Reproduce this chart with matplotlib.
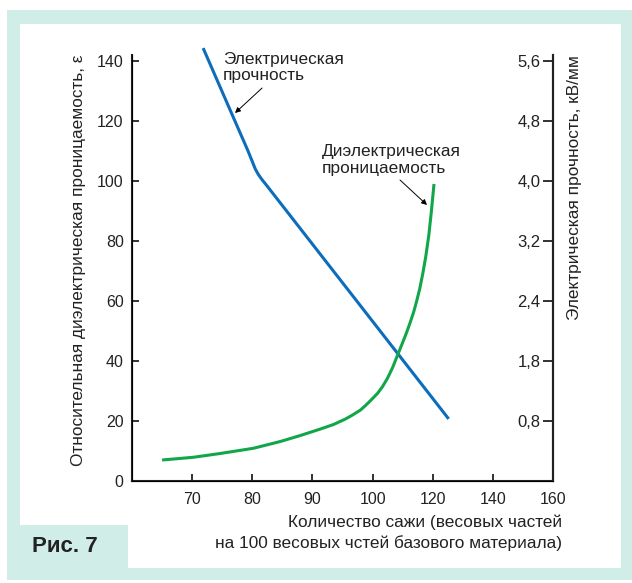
import numpy as np
import matplotlib

matplotlib.use("Agg")
import matplotlib.pyplot as plt
from matplotlib.patches import Rectangle

plt.rcParams["font.family"] = ["Liberation Sans", "DejaVu Sans"]

# количество сажи и диэлектрическая проницаемость
perm_x = [65.0, 70.17, 74.67, 80.17, 84.67, 88.0, 91.33, 93.5, 95.5, 96.67, 98.0, 98.83, 99.67,
          101.67, 103.33, 105.0, 106.67, 108.33, 109.67, 111.0, 112.33, 113.67, 114.67, 115.67,
          116.67, 117.67, 118.67, 119.5, 120.43]
perm_y = [7.0, 7.9, 9.17, 10.9, 13.17, 15.17, 17.33, 18.83, 20.67, 22.0, 23.67, 25.17, 26.83,
          29.23, 31.5, 34.33, 37.83, 42.0, 45.33, 48.67, 52.33, 56.33, 60.0, 64.0,
          69.0, 74.67, 81.67, 89.33, 99.0]

# электрическая прочность (в единицах левой оси)
strength_x = [71.83, 76.83, 79.23, 80.0, 80.5, 81.0, 81.6, 82.4, 125.3]
strength_y = [144.3, 121.3, 110.3, 106.5, 104.0, 102.2, 100.5, 98.5, 20.7]

x_ticks = [70, 80, 90, 100, 120, 140, 160]
left_ticks = [0, 20, 40, 60, 80, 100, 120, 140]
right_ticks = [20, 40, 60, 80, 100, 120, 140]
right_labels = ["0,8", "1,8", "2,4", "3,2", "4,0", "4,8", "5,6"]

TEAL = "#d1ede7"
BLUE = "#0b6dbb"
GREEN = "#12a64a"
INK = "#222222"
W, H = 632, 583


def fwd(x):
    x = np.asarray(x, dtype=float)
    return np.where(x <= 100, (x - 60) / 10, 4 + (x - 100) / 20)


def inv(i):
    i = np.asarray(i, dtype=float)
    return np.where(i <= 4, 60 + 10 * i, 100 + 20 * (i - 4))


def box(x0, y0, x1, y1, color):
    # pixel box (top-left origin) -> figure fraction
    return Rectangle((x0 / W, 1 - y1 / H), (x1 - x0) / W, (y1 - y0) / H,
                     transform=fig.transFigure, facecolor=color, edgecolor="none", zorder=-10)


fig = plt.figure(figsize=(W / 100, H / 100), dpi=100)
fig.patch.set_facecolor("white")
fig.patches.append(box(7, 10, 632, 580, TEAL))
fig.patches.append(box(20, 24, 621, 568, "white"))
fig.patches.append(box(20, 525, 128, 568, TEAL))

ax = fig.add_axes([132 / W, 1 - 481 / H, 421 / W, 426 / H])
ax.set_xscale("function", functions=(fwd, inv))
ax.set_xlim(60, 160)
ax.set_ylim(0, 142)

ax.plot(strength_x, strength_y, color=BLUE, lw=2.2, clip_on=False,
        solid_capstyle="butt", solid_joinstyle="round")
ax.plot(perm_x, perm_y, color=GREEN, lw=2.2, clip_on=False,
        solid_capstyle="butt", solid_joinstyle="round")

ax.set_xticks(x_ticks)
ax.set_xticklabels([str(v) for v in x_ticks])
ax.xaxis.set_minor_locator(matplotlib.ticker.NullLocator())
ax.set_yticks(left_ticks)
ax.tick_params(direction="in", length=5, width=1.3, labelsize=11.5, color=INK, labelcolor=INK)
ax.tick_params(axis="x", pad=8)
ax.tick_params(axis="y", pad=6)
for s in ["left", "bottom", "right"]:
    ax.spines[s].set_linewidth(1.5)
    ax.spines[s].set_color(INK)
ax.spines["top"].set_visible(False)

ax2 = ax.twinx()
ax2.set_ylim(ax.get_ylim())
ax2.set_yticks(right_ticks)
ax2.set_yticklabels(right_labels)
ax2.spines["top"].set_visible(False)
ax2.spines["right"].set_linewidth(1.5)
ax2.spines["right"].set_color(INK)
ax2.tick_params(axis="y", direction="in", length=7, width=1.3, labelsize=12, pad=-9,
                color=INK, labelcolor=INK)
for lbl in ax2.get_yticklabels():
    lbl.set_horizontalalignment("right")

lab = 12.4
ax.set_ylabel("Относительная диэлектрическая проницаемость, ε", fontsize=lab, color=INK)
ax.yaxis.set_label_coords(-0.126, 1.0)
ax.yaxis.label.set_va("center")
ax.yaxis.label.set_ha("right")
ax2.set_ylabel("Электрическая прочность, кВ/мм", fontsize=lab, color=INK, rotation=90)
ax2.yaxis.set_label_coords(1.052, 1.0)
ax2.yaxis.label.set_va("center")
ax2.yaxis.label.set_ha("right")

ax.set_xlabel("Количество сажи (весовых частей\nна 100 весовых чстей базового материала)",
              fontsize=lab, multialignment="right", ha="right", linespacing=1.4, color=INK)
ax.xaxis.set_label_coords((562 - 132) / 421, -0.078)
ax.xaxis.label.set_va("top")

arrow = dict(arrowstyle="-|>", lw=0.7, color="black", mutation_scale=8, shrinkA=0, shrinkB=0)
ax.text(0.216, 1.008, "Электрическая\nпрочность", transform=ax.transAxes,
        fontsize=lab, va="top", ha="left", linespacing=1.12, color=INK)
ax.annotate("", xy=(0.2447, 0.8638), xytext=(0.309, 0.9225), xycoords="axes fraction", arrowprops=arrow)
ax.text(0.451, 0.790, "Диэлектрическая\nпроницаемость", transform=ax.transAxes,
        fontsize=lab, va="top", ha="left", linespacing=1.12, color=INK)
ax.annotate("", xy=(0.7007, 0.6479), xytext=(0.6366, 0.7066), xycoords="axes fraction", arrowprops=arrow)

fig.text(32 / W, 1 - 547 / H, "Рис. 7", fontsize=16, fontweight="bold", va="center", ha="left", color=INK)

fig.savefig("out.png", dpi=100)
